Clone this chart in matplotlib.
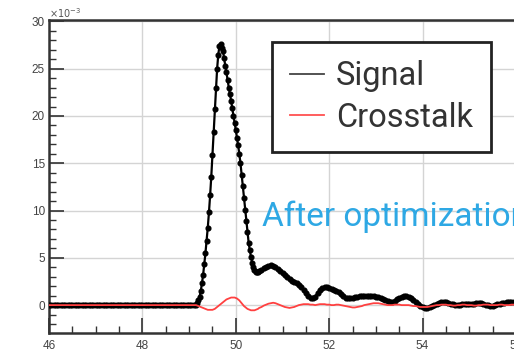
import numpy as np
import matplotlib
matplotlib.use("Agg")
import matplotlib.pyplot as plt
from matplotlib.lines import Line2D
from matplotlib.ticker import MultipleLocator

# ---- data (time in ns, amplitude in units of 1e-3) ----
# sample times: coarse before the pulse, fine across the pulse, medium in the tail
t_pre = np.round(np.arange(46.0, 49.15 + 1e-9, 0.05), 3)
t_pulse = np.round(np.arange(49.175, 50.5 + 1e-9, 0.025), 3)
t_tail = np.round(np.arange(50.55, 56.2 + 1e-9, 0.05), 3)

signal_pre = [0.0] * 64
signal_pulse = [
    0.2, 0.5, 0.9, 1.5, 2.3, 3.2, 4.3, 5.5, 6.8, 8.2,
    9.8, 11.6, 13.6, 15.9, 18.3, 20.7, 23.0, 25.0, 26.5, 27.4,
    27.6, 27.2, 26.9, 26.1, 25.3, 24.6, 23.8, 23.0, 22.3, 21.6,
    20.8, 20.0, 19.3, 18.5, 17.7, 16.9, 16.0, 15.0, 13.8, 12.6,
    11.3, 10.1, 8.9, 7.7, 6.6, 5.8, 5.1, 4.5, 4.0, 3.7,
    3.5, 3.5, 3.5, 3.6,
]
signal_tail = [
    3.7, 3.9, 4.0, 4.1, 4.2, 4.1, 4.0, 3.8, 3.6, 3.4,
    3.2, 3.0, 2.8, 2.6, 2.4, 2.3, 2.1, 1.9, 1.6, 1.3,
    1.0, 0.8, 0.8, 0.9, 1.3, 1.6, 1.8, 1.9, 1.9, 1.8,
    1.7, 1.6, 1.5, 1.4, 1.2, 1.0, 0.8, 0.7, 0.7, 0.8,
    0.9, 0.9, 1.0, 1.0, 1.0, 1.0, 1.0, 1.0, 1.0, 0.9,
    0.9, 0.8, 0.6, 0.5, 0.4, 0.3, 0.3, 0.4, 0.6, 0.8,
    0.9, 1.0, 1.0, 0.9, 0.7, 0.5, 0.3, 0.1, -0.1, -0.2,
    -0.3, -0.3, -0.2, -0.1, 0.0, 0.1, 0.2, 0.3, 0.3, 0.3,
    0.2, 0.1, 0.1, 0.0, 0.0, 0.0, 0.1, 0.1, 0.1, 0.1,
    0.1, 0.1, 0.2, 0.2, 0.2, 0.1, 0.0, 0.0, -0.1, -0.1,
    0.0, 0.1, 0.1, 0.2, 0.2, 0.3, 0.3, 0.3, 0.3, 0.2,
    0.2, 0.2, 0.1, 0.1,
]

crosstalk_pre = [0.0] * 64
crosstalk_pulse = [
    -0.05, -0.1, -0.15, -0.2, -0.25, -0.3, -0.35, -0.4, -0.45, -0.5,
    -0.5, -0.5, -0.5, -0.5, -0.45, -0.4, -0.3, -0.2, -0.1, 0.0,
    0.1, 0.2, 0.3, 0.4, 0.5, 0.6, 0.65, 0.7, 0.75, 0.8,
    0.8, 0.8, 0.8, 0.75, 0.7, 0.6, 0.5, 0.35, 0.2, 0.05,
    -0.1, -0.2, -0.3, -0.4, -0.45, -0.5, -0.55, -0.55, -0.55, -0.55,
    -0.5, -0.45, -0.4, -0.3,
]
crosstalk_tail = [
    -0.2, -0.05, 0.05, 0.15, 0.2, 0.25, 0.2, 0.1, 0.0, -0.1,
    -0.2, -0.25, -0.3, -0.25, -0.2, -0.1, 0.0, 0.05, 0.1, 0.1,
    0.1, 0.05, 0.05, 0.0, 0.05, 0.1, 0.1, 0.1, 0.05, 0.05,
    0.0, 0.0, 0.05, 0.05, 0.0, -0.05, -0.1, -0.15, -0.2, -0.25,
    -0.25, -0.2, -0.15, -0.1, 0.0, 0.05, 0.1, 0.15, 0.2, 0.2,
    0.2, 0.15, 0.1, 0.05, 0.0, 0.0, 0.0, 0.05, 0.05, 0.05,
    0.0, 0.0, 0.0, 0.0, -0.05, -0.1, -0.1, -0.15, -0.2, -0.2,
    -0.2, -0.2, -0.15, -0.1, -0.05, 0.0, 0.0, 0.05, 0.05, 0.05,
    0.0, 0.0, -0.05, -0.05, 0.0, 0.0, 0.05, 0.05, 0.0, 0.0,
    0.0, -0.05, -0.05, 0.0, 0.0, 0.05, 0.05, 0.05, 0.0, 0.0,
    0.0, 0.0, 0.05, 0.05, 0.0, 0.0, 0.0, 0.05, 0.05, 0.0,
    0.0, 0.0, 0.0, 0.0,
]

series_labels = ["Signal", "Crosstalk"]
annotation = "After optimization"
x_ticks = [46, 48, 50, 52, 54, 56]
y_ticks = [0, 5, 10, 15, 20, 25, 30]

t = np.concatenate([t_pre, t_pulse, t_tail])
signal = np.array(signal_pre + signal_pulse + signal_tail)
crosstalk = np.array(crosstalk_pre + crosstalk_pulse + crosstalk_tail)
assert len(t) == len(signal) == len(crosstalk)

# ---- figure ----
W, H = 514, 357
fig = plt.figure(figsize=(W / 100, H / 100), dpi=100)
fig.patch.set_facecolor("white")

xmin, xmax = 46.0, 58.0
ax = fig.add_axes([49 / W, 24 / H, 12 * 46.7 / W, 313 / H])
ax.set_xlim(xmin, xmax)
ax.set_ylim(-2.95, 30.15)

frame_col = "#333333"
for side in ("left", "bottom", "top", "right"):
    ax.spines[side].set_linewidth(1.8)
    ax.spines[side].set_color(frame_col)

ax.set_xticks(x_ticks)
ax.set_yticks(y_ticks)
ax.xaxis.set_minor_locator(MultipleLocator(0.5))
ax.yaxis.set_minor_locator(MultipleLocator(1))
ax.tick_params(which="both", direction="in", color=frame_col, top=False, right=False)
ax.tick_params(which="major", length=11, width=1.2)
ax.tick_params(which="minor", length=5, width=1.0)
ax.tick_params(axis="both", labelsize=8.5, labelcolor="#444444")
ax.tick_params(axis="x", pad=5)
ax.tick_params(axis="y", pad=3)
for lab in ax.get_xticklabels() + ax.get_yticklabels():
    lab.set_family("Liberation Sans")

ax.grid(True, which="major", color="#d4d4d4", lw=1.0)
ax.set_axisbelow(True)

ax.text(0.0, 1.0, r"$\times10^{-3}$", transform=ax.transAxes, ha="left", va="bottom",
        fontsize=7, color="#555555", family="Liberation Sans")

ax.plot(t, signal, color="black", lw=1.6, marker="o", ms=3.4, mec="black", mfc="black",
        zorder=3)
ax.plot(t, crosstalk, color="#ff4040", lw=1.3, zorder=4)

ax.text(50.57, 8.4, annotation, color="#2ea8e4", fontsize=24, family="Roboto",
        ha="left", va="baseline", zorder=5)

handles = [Line2D([], [], color="#444444", lw=1.3),
           Line2D([], [], color="#ff5050", lw=1.3)]
leg = ax.legend(handles, series_labels, loc="upper left",
                bbox_to_anchor=(272 / W, 1 - 42 / H), bbox_transform=fig.transFigure,
                borderaxespad=0, frameon=True, fancybox=False, framealpha=1,
                edgecolor="#222222", prop={"family": "Roboto", "size": 23.5},
                handlelength=1.03, handletextpad=0.37, borderpad=0.55, labelspacing=0.3)
leg.get_frame().set_linewidth(2.0)
for txt in leg.get_texts():
    txt.set_color("#333333")

fig.savefig("out.png", dpi=100)
